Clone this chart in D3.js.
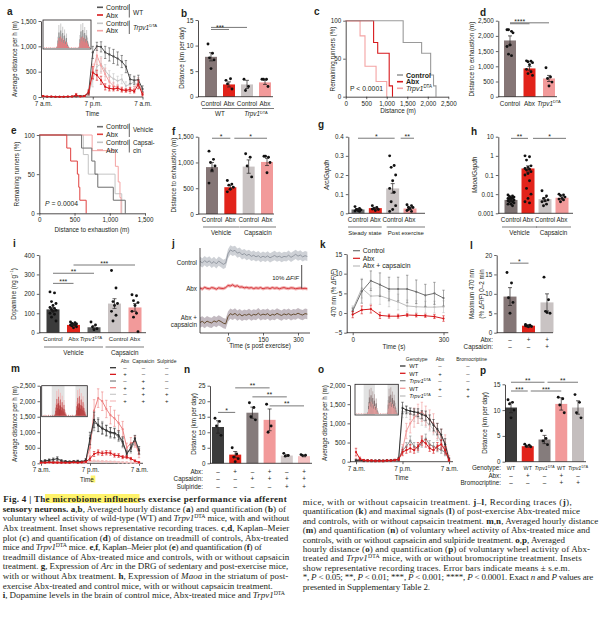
<!DOCTYPE html>
<html><head><meta charset="utf-8">
<script src="https://cdn.jsdelivr.net/npm/d3@7"></script>
<style>body{margin:0;background:#fff}svg{display:block}</style>
</head><body>
<script>
// ================= DATA =================
const hourTicks=[0,12,24];
const hourTickLabels=['7 a.m.','7 p.m.','7 a.m.'];
// panel a (hourly, 7 a.m. .. 7 a.m.)
const aCtrlWT=[10,5,5,5,5,5,5,10,10,20,20,80,880,1000,990,880,840,800,760,700,600,350,330,340,160];
const aCtrlWTerr=[5,5,5,5,5,5,5,5,5,10,10,40,120,80,100,120,130,140,130,120,120,90,80,90,60];
const aAbxWT=[20,10,10,5,5,5,10,10,40,10,20,100,480,430,330,200,170,160,170,140,130,150,110,250,50];
const aAbxWTerr=[10,5,5,5,5,5,5,5,30,5,10,40,120,100,80,60,50,40,40,40,30,40,30,80,30];
const aCtrlTrpv=[5,5,5,5,5,5,5,5,10,10,10,50,350,600,650,520,420,360,320,350,220,250,300,220,100];
const aCtrlTrpvErr=[5,5,5,5,5,5,5,5,5,5,5,30,150,150,150,120,100,100,90,90,80,80,90,70,50];
const aAbxTrpv=[5,5,5,5,5,5,5,5,10,10,10,60,500,820,620,450,300,220,180,150,130,110,160,300,80];
const aAbxTrpvErr=[5,5,5,5,5,5,5,5,5,5,5,30,150,180,150,120,90,70,60,50,40,40,50,80,40];
// inset traces (relative activity)
const insetHi=[0,0,0,0,0,0,0,0,0,0,0,0,0,0.08,0.45,0.92,0.62,0.98,0.55,0.85,0.48,0.74,0.38,0.58,0.22,0.1,0,0,0,0,0,0,0,0,0,0,0.06,0.52,0.95,0.68,1.0,0.58,0.84,0.52,0.72,0.42,0.22,0.06];
const insetMid=[0,0,0,0,0,0,0,0,0,0,0,0,0,0.04,0.3,0.62,0.45,0.7,0.38,0.6,0.32,0.5,0.26,0.4,0.14,0.05,0,0,0,0,0,0,0,0,0,0,0.03,0.35,0.66,0.46,0.72,0.4,0.6,0.36,0.5,0.28,0.14,0.03];
const insetLo=[0.02,0,0.03,0,0.02,0,0.03,0,0.02,0,0.03,0,0.02,0.03,0.18,0.4,0.28,0.46,0.24,0.38,0.2,0.3,0.16,0.24,0.08,0.03,0.02,0,0.03,0,0.02,0,0.03,0,0.02,0,0.02,0.2,0.42,0.3,0.45,0.26,0.38,0.22,0.3,0.18,0.08,0.02];
// panel b
const bLabels=['Control','Abx','Control','Abx'];
const bVals=[7.8,2.4,2.4,2.8];
const bErr=[0.8,0.5,0.8,0.4];
const bDots=[[10.3,8.5,7.6,7.2,5.5],[3.2,3.5,2.5,1.5],[3.4,2.0,1.2],[3.4,3.4,3.4,2.0]];
// panel c (Kaplan–Meier: distance m, % remaining)
const cCtrl=[[0,100],[1400,71.4],[1850,57.1],[2070,28.6],[2140,14.3],[2200,0]];
const cAbx=[[0,100],[680,71.4],[780,57.1],[1060,14.3],[1140,0]];
const cTrpv=[[0,100],[350,80],[470,40],[740,20],[1000,0]];
// panel d
const dLabels=['Control','Abx','[i]Trpv1[/i][s]DTA[/s]'];
const dVals=[1850,930,600];
const dErr=[150,60,100];
const dDots=[[2200,2150,2200,2100,1700,1650,1350,1400],[1180,1170,1150,1120,1050,900,820,760,700],[950,650,600,480,350]];
// panel e
const eCtrlVeh=[[0,100],[600,83.3],[745,66.7],[790,50],[830,33.3],[1050,16.7],[1220,0]];
const eAbxVeh=[[0,100],[390,83.3],[445,66.7],[540,50],[560,33.3],[575,16.7],[665,0]];
const eCtrlCaps=[[0,100],[625,75],[695,50],[1075,25],[1170,0]];
const eAbxCaps=[[0,100],[750,80],[1080,60],[1120,40],[1145,20],[1160,0]];
// panel f
const fLabels=['Control','Abx','Control','Abx'];
const fVals=[910,520,920,1010];
const fErr=[90,40,130,70];
const fDots=[[1220,1060,1000,930,850,600],[650,580,560,520,480,430],[1170,1100,930,720],[1120,1100,1120,1000,800]];
// panel g
const gLabels=['Control','Abx','Control','Abx'];
const gVals=[0.02,0.027,0.13,0.025];
const gErr=[0.004,0.004,0.025,0.005];
const gDots=[[0.035,0.025,0.02,0.018,0.015,0.012,0.01,0.02],[0.04,0.03,0.025,0.02,0.015,0.022],[0.3,0.25,0.24,0.2,0.17,0.13,0.11,0.06,0.04,0.02,0.01],[0.045,0.04,0.032,0.03,0.025,0.015,0.01,0.02]];
// panel h
const hLabels=['Control','Abx','Control','Abx'];
const hVals=[0.005,0.22,0.0055,0.0065];
const hErr=[0.0005,0.08,0.0012,0.0008];
const hDots=[[0.009,0.008,0.0075,0.007,0.0065,0.006,0.006,0.0055,0.005,0.005,0.0045,0.004,0.004,0.0035,0.003,0.003,0.0025],[1.0,0.9,0.6,0.3,0.25,0.22,0.2,0.18,0.15,0.12,0.1,0.05,0.02,0.01,0.006,0.004,0.0035],[0.015,0.008,0.006,0.005,0.0045,0.004,0.003,0.0025],[0.01,0.009,0.0085,0.007,0.006,0.0055,0.005,0.004]];
// panel i
const iLabels=['Control','Abx','[i]Trpv1[/i][s]DTA[/s]','Control','Abx'];
const iVals=[120,40,28,150,130];
const iErr=[10,3,8,25,20];
const iDots=[[210,205,160,150,140,130,125,120,115,110,100,95,80,60],[55,52,48,45,42,40,38,35,30,25],[55,40,30,20,15],[320,230,160,150,140,110,90,60],[195,190,165,155,140,110,100,80,5]];
// panel j (%ΔF/F, every 10 s from −120 s)
const jCtrl=[0.3,-0.4,0.6,-0.2,0.5,-0.6,0.2,-0.8,0.4,-0.3,-1.0,-0.5,3.5,5.2,4.6,5.0,3.8,4.2,3.1,3.6,2.8,3.3,2.4,2.9,2.2,2.7,1.9,2.5,2.0,2.6,1.8,2.3,2.8,2.1,2.5,1.9,2.4,2.2,2.9,2.0,2.6,3.3,2.5,3.0,2.2,2.7,2.4];
const jAbx=[0.1,-0.3,0.4,0.0,-0.2,0.3,0.1,-0.4,0.2,0.0,-0.1,0.3,1.2,1.0,1.5,0.8,1.1,0.5,0.6,0.2,0.4,0.1,0.3,-0.1,0.2,0.0,0.3,-0.2,0.1,0.2,-0.1,0.3,0.0,0.2,-0.2,0.1,0.3,0.0,-0.1,0.2,0.1,-0.2,0.0,0.1,-0.1,0.0,-0.2];
const jCaps=[0.0,0.5,-0.3,0.6,0.1,-0.2,0.7,0.2,0.9,0.4,-0.3,-0.6,2.5,3.8,3.3,3.9,3.0,3.6,2.8,3.4,3.1,3.7,2.9,3.5,3.2,4.0,3.1,3.6,3.3,3.8,2.9,3.5,3.2,3.9,3.4,3.0,3.7,3.3,3.8,3.1,3.6,3.4,4.0,3.5,3.2,3.8,3.6];
const jBand=[2.0,0.7,2.2];
// panel k
const kTime=[0,30,60,90,120,150,180,210,240,270,300];
const kCtrl=[0.5,5.5,8.2,7.2,6.1,6.1,6.1,5.4,4.5,5.0,3.8];
const kCtrlErr=[0.8,3,2.5,3,3,3,3.5,3,2.8,2.8,2];
const kCaps=[1.0,6.3,4.3,4.4,3.6,2.8,1.8,1.6,1.5,1.5,1.6];
const kCapsErr=[0.8,2.5,2,2.2,2,2,1.5,1.5,1.5,1.5,1.5];
const kAbx=[-0.4,0.8,1.0,-0.6,-0.8,-0.8,-0.5,-0.6,-0.7,-0.9,-1.4];
const kAbxErr=[0.8,1,1,0.8,0.5,0.5,0.4,0.4,0.4,0.5,0.7];
// panel l
const lVals=[9.3,1.8,7.8];
const lErr=[2.3,0.3,2.2];
const lDots=[[15.5,12.8,9.0,7.8,5.0],[2.1,1.9,1.7,1.6,1.5,1.8],[14.3,8.5,5.5,5.0,5.2]];
const lAbx=['–','+','+'];
const lCaps=['–','–','+'];
// panel m
const mCtrl=[60,80,100,120,150,80,60,50,60,70,50,100,800,1400,1220,1120,1060,1000,980,900,700,300,500,800,420];
const mCtrlErr=[30,40,40,50,60,40,30,30,30,30,30,50,200,250,200,180,160,150,150,150,150,100,120,100,120];
const mAbx=[20,20,30,20,20,20,20,20,30,20,30,50,150,300,350,320,340,330,260,250,200,200,150,80,30];
const mAbxErr=[10,10,10,10,10,10,10,10,10,10,10,20,60,80,80,70,70,70,60,60,50,50,40,30,20];
const mCaps=[30,40,50,40,40,30,30,30,40,40,40,80,700,1300,1250,1150,1050,980,950,850,650,350,450,700,380];
const mCapsErr=[20,20,20,20,20,20,20,20,20,20,20,40,200,250,220,200,180,170,160,150,150,100,120,120,100];
const mAbxCaps=[30,40,40,40,40,30,30,30,50,40,40,100,500,1700,2100,2000,1750,1550,1450,1300,1100,500,650,700,300];
const mAbxCapsErr=[20,20,20,20,20,20,20,20,20,20,20,50,250,350,300,300,280,280,260,250,250,150,180,180,120];
const mSulp=[10,10,10,10,10,10,10,10,10,10,10,20,40,60,50,60,40,50,40,30,30,20,20,20,10];
const mSulpErr=[5,5,5,5,5,5,5,5,5,5,5,10,20,30,20,30,20,20,20,15,15,10,10,10,5];
const mAbxCapsSulp=[10,10,10,10,10,10,10,10,10,10,10,20,60,80,70,60,60,50,50,40,30,30,20,20,10];
const mAbxCapsSulpErr=[5,5,5,5,5,5,5,5,5,5,5,10,30,30,30,30,25,20,20,20,15,15,10,10,5];
// panel n
const nVals=[11.7,2.8,16.3,14.0,2.5,2.3];
const nErr=[2.0,1.0,1.8,3.5,0.3,0.2];
const nDots=[[14.5,13.5,12,9],[5,3,2,1.5,0.5],[19.5,18,15,14],[19,12,10],[3.2,2.5,2.3],[2.8,2.6,2.5]];
const nAbx=['–','+','–','+','–','+'];
const nCaps=['–','–','+','+','+','+'];
const nSulp=['–','–','–','–','+','+'];
// panel o
const oWT=[30,40,20,30,20,20,30,20,30,30,40,60,1400,1350,1320,1300,1280,1230,1200,1100,950,850,700,450,60];
const oWTerr=[20,20,20,20,20,20,20,20,20,20,20,40,150,100,80,80,100,100,120,120,150,150,150,150,40];
const oAbx=[250,80,40,30,30,20,20,20,30,30,40,60,250,300,350,300,400,550,480,350,300,400,450,300,40];
const oAbxErr=[100,40,20,20,20,20,20,20,20,20,20,30,80,80,100,80,100,120,100,80,80,100,120,100,30];
const oTrpv=[40,40,30,20,20,20,20,20,30,30,40,60,300,400,550,400,350,500,600,450,400,350,300,250,50];
const oTrpvErr=[20,20,20,20,20,20,20,20,20,20,20,30,80,100,120,100,100,120,120,100,100,90,80,80,30];
const oAbxBromo=[60,40,30,20,20,20,20,20,30,30,40,80,300,800,1000,1150,1250,1300,1200,1100,1000,800,650,500,100];
const oAbxBromoErr=[30,20,20,20,20,20,20,20,20,20,20,40,150,200,250,250,250,250,250,250,250,200,200,200,60];
const oTrpvBromo=[40,40,30,20,20,20,20,20,30,30,40,60,1300,1300,1250,1200,1150,1100,1050,950,850,700,500,300,50];
const oTrpvBromoErr=[20,20,20,20,20,20,20,20,20,20,20,30,150,150,150,150,150,150,150,150,150,150,150,150,40];
// panel p
const pGeno=['WT','WT','[i]Trpv1[/i][s]DTA[/s]','WT','[i]Trpv1[/i][s]DTA[/s]'];
const pVals=[10.5,3.0,4.3,11.2,10.5];
const pErr=[1.0,0.2,0.8,1.2,1.3];
const pDots=[[12,11.5,11.2,10,8.5],[3.4,3.2,3.0,2.9],[6,4.5,4,3.3],[12.5,12.2,11,9.5],[13,11.5,9.5,8.5]];
const pAbx=['–','+','–','+','–'];
const pBromo=['–','–','–','+','+'];
// caption
const capLeft=[
'[b]Fig. 4 | The microbiome influences exercise performance via afferent[/b]',
'[b]sensory neurons. a[/b],[b]b[/b], Averaged hourly distance ([b]a[/b]) and quantification ([b]b[/b]) of',
'voluntary wheel activity of wild-type (WT) and [i]Trpv1[/i][s]DTA[/s] mice, with and without',
'Abx treatment. Inset shows representative recording traces. [b]c[/b],[b]d[/b], Kaplan–Meier',
'plot ([b]c[/b]) and quantification ([b]d[/b]) of distance on treadmill of controls, Abx-treated',
'mice and [i]Trpv1[/i][s]DTA[/s] mice. [b]e[/b],[b]f[/b], Kaplan–Meier plot ([b]e[/b]) and quantification ([b]f[/b]) of',
'treadmill distance of Abx-treated mice and controls, with or without capsaicin',
'treatment. [b]g[/b], Expression of [i]Arc[/i] in the DRG of sedentary and post-exercise mice,',
'with or without Abx treatment. [b]h[/b], Expression of [i]Maoa[/i] in the striatum of post-',
'exercise Abx-treated and control mice, with or without capsaicin treatment.',
'[b]i[/b], Dopamine levels in the brain of control mice, Abx-treated mice and [i]Trpv1[/i][s]DTA[/s]'];
const capLeftEnd=[286.7,286,289.3,289.3,288.3,261.7,289.3,288.3,288.3,272.7,285];
const capRight=[
'mice, with or without capsaicin treatment. [b]j[/b]–[b]l[/b], Recording traces ([b]j[/b]),',
'quantification ([b]k[/b]) and maximal signals ([b]l[/b]) of post-exercise Abx-treated mice',
'and controls, with or without capsaicin treatment. [b]m[/b],[b]n[/b], Averaged hourly distance',
'([b]m[/b]) and quantification ([b]n[/b]) of voluntary wheel activity of Abx-treated mice and',
'controls, with or without capsaicin and sulpiride treatment. [b]o[/b],[b]p[/b], Averaged',
'hourly distance ([b]o[/b]) and quantification ([b]p[/b]) of voluntary wheel activity of Abx-',
'treated and [i]Trpv1[/i][s]DTA[/s] mice, with or without bromocriptine treatment. Insets',
'show representative recording traces. Error bars indicate means ± s.e.m.',
'*, [i]P[/i] < 0.05; **, [i]P[/i] < 0.01; ***, [i]P[/i] < 0.001; ****, [i]P[/i] < 0.0001. Exact [i]n[/i] and [i]P[/i] values are',
'presented in Supplementary Table 2.'];
const capRightEnd=[571.7,580,598.3,590,565,590,581.7,570,593.3,430];

// ================= HELPERS =================
const SANS='"Liberation Sans", Arial, Helvetica, sans-serif';
const SERIF='"Liberation Serif", "Times New Roman", serif';
const INK='#231f20';
const COL={dark:'#3b3b3b',taupe:'#857676',red:'#e2231a',lgray:'#c9c3c3',pink:'#f29a9a',gray:'#857b7b',lpink:'#f6c2c2',mgray:'#6a6a6a'};
const svg=d3.select('body').append('svg').attr('width',600).attr('height',631).style('font-family',SANS);

function rich(t,s,fs){
  const parts=s.split(/(\[\/?[bis]\])/);
  let b=0,it=0,sup=0,back=0;
  parts.forEach(p=>{
    if(p==='[b]'){b=1;return;} if(p==='[/b]'){b=0;return;}
    if(p==='[i]'){it=1;return;} if(p==='[/i]'){it=0;return;}
    if(p==='[s]'){sup=1;return;} if(p==='[/s]'){sup=0;back=fs*0.38;return;}
    if(!p) return;
    const ts=t.append('tspan').text(p);
    if(b) ts.attr('font-weight','bold');
    if(it) ts.attr('font-style','italic');
    if(sup){ts.attr('font-size',fs*0.64).attr('dy',-fs*0.38);}
    else if(back){ts.attr('dy',back);back=0;}
  });
}
function T(g,x,y,s,o={}){
  const fs=o.fs||6.3;
  const t=g.append('text').attr('x',x).attr('y',y).attr('font-size',fs).attr('fill',o.c||INK)
    .attr('text-anchor',o.a||'start').attr('font-family',o.ff||SANS);
  if(o.w) t.attr('font-weight',o.w);
  if(o.rot) t.attr('transform',`rotate(-90 ${x} ${y})`);
  rich(t,String(s),fs);
  return t;
}
function sty(sel){
  sel.attr('font-family',SANS);
  sel.select('.domain').attr('stroke',INK).attr('stroke-width',0.8);
  sel.selectAll('.tick line').attr('stroke',INK).attr('stroke-width',0.7);
  sel.selectAll('.tick text').attr('font-size',6.3).attr('fill',INK).attr('font-family',SANS);
}
function yAxis(g,ax,y,ticks,fmt){
  return g.append('g').attr('transform',`translate(${ax},0)`)
   .call(d3.axisLeft(y).tickValues(ticks).tickFormat(fmt||d3.format(',')).tickSize(2.5).tickPadding(2).tickSizeOuter(0)).call(sty);
}
function xAxis(g,ay,x,ticks,fmt,x0,x1){
  const a=g.append('g').attr('transform',`translate(0,${ay})`)
   .call(d3.axisBottom(x).tickValues(ticks).tickFormat(fmt||d3.format(',')).tickSize(2.5).tickPadding(2).tickSizeOuter(0)).call(sty);
  if(x0!==undefined){a.select('.domain').remove();g.append('line').attr('x1',x0).attr('x2',x1).attr('y1',ay).attr('y2',ay).attr('stroke',INK).attr('stroke-width',0.8);}
  return a;
}
function hline(g,x1,x2,y,c,w){g.append('line').attr('x1',x1).attr('x2',x2).attr('y1',y).attr('y2',y).attr('stroke',c||INK).attr('stroke-width',w||0.8);}
function vline(g,x,y1,y2,c,w){g.append('line').attr('x1',x).attr('x2',x).attr('y1',y1).attr('y2',y2).attr('stroke',c||INK).attr('stroke-width',w||0.8);}
const jit=j=>(((j*3)%5)-2)*1.5;

function barPanel(o){
  const g=svg.append('g');
  const n=o.vals.length;
  const x=d3.scalePoint().domain(d3.range(n)).range(o.xr);
  const y=(o.log?d3.scaleLog():d3.scaleLinear()).domain(o.dom).range(o.yr);
  const base=o.dom[0];
  g.selectAll('rect.bar').data(o.vals).join('rect').attr('class','bar')
    .attr('x',(d,i)=>x(i)-o.bw/2).attr('width',o.bw).attr('y',d=>y(d)).attr('height',d=>y(base)-y(d))
    .attr('fill',(d,i)=>o.colors[i]);
  o.dots.forEach((arr,i)=>arr.forEach((d,j)=>g.append('circle').attr('cx',x(i)+jit(j)).attr('cy',y(d)).attr('r',1.45).attr('fill','#111')));
  o.vals.forEach((v,i)=>{const e=o.errs[i];const lo=Math.max(v-e,o.log?base:0);
    vline(g,x(i),y(lo),y(v+e),INK,0.7);hline(g,x(i)-2,x(i)+2,y(v+e),INK,0.7);hline(g,x(i)-2,x(i)+2,y(lo),INK,0.7);});
  yAxis(g,o.ax,y,o.ticks,o.fmt);
  hline(g,o.ax,o.xend,y(base));
  (o.sig||[]).forEach(s=>{const yy=y(s.v);const x1=x(s.a)+(s.d1||0),x2=x(s.b)-(s.d2||0);
    hline(g,x1,x2,yy,'#555',0.8); if(s.t) T(g,(x1+x2)/2,yy+0.6,s.t,{a:'middle',fs:7});});
  if(o.labels) o.labels.forEach((l,i)=>T(g,x(i)+((o.labelDx||[])[i]||0),o.labelY,l,{a:'middle',fs:o.labelFs||6.3}));
  (o.groups||[]).forEach(gr=>{const x1=x(gr.a)-(gr.l||9),x2=x(gr.b)+(gr.r||9);hline(g,x1,x2,o.gy,'#444',0.7);T(g,(x1+x2)/2,o.gy+7.5,gr.t,{a:'middle',fs:o.groupFs||6.3});});
  (o.rows||[]).forEach(r=>{T(g,o.rowX,r.y,r.label,{a:'end',fs:r.lfs||6.3});r.vals.forEach((v,i)=>T(g,x(i),r.y,v,{a:'middle',fs:r.fs||6.3}));});
  if(o.ylab) T(g,o.ylx,o.yly,o.ylab,{a:'middle',rot:1,fs:6.3});
  return {g,x,y};
}
function series(g,x,y,vals,errs,color,o={}){
  const lo=o.lo===undefined?0:o.lo;
  vals.forEach((v,i)=>{const e=errs[i];const xi=x(o.t?o.t[i]:i);
    const a=Math.max(lo,v-e),b=v+e;
    vline(g,xi,y(a),y(b),color,0.6);hline(g,xi-1.2,xi+1.2,y(b),color,0.6);hline(g,xi-1.2,xi+1.2,y(a),color,0.6);});
  g.append('path').attr('d',d3.line().x((d,i)=>x(o.t?o.t[i]:i)).y(d=>y(d))(vals)).attr('fill','none').attr('stroke',color).attr('stroke-width',o.w||1);
  vals.forEach((v,i)=>g.append('circle').attr('cx',x(o.t?o.t[i]:i)).attr('cy',y(v)).attr('r',1.1).attr('fill',color));
}
function km(g,x,y,pts,color,w){
  g.append('path').attr('d',d3.line().x(d=>x(d[0])).y(d=>y(d[1])).curve(d3.curveStepAfter)(pts))
   .attr('fill','none').attr('stroke',color).attr('stroke-width',w||1);
}
function inset(x0,y0,w,h,cols,bands){
  const g=svg.append('g');
  g.append('rect').attr('x',x0).attr('y',y0).attr('width',w).attr('height',h).attr('fill','#fff');
  (bands||[]).forEach(b=>g.append('rect').attr('x',x0+b[0]*w).attr('y',y0).attr('width',(b[1]-b[0])*w).attr('height',h).attr('fill','#e2e2e2'));
  [insetHi,insetMid,insetLo].forEach((arr,k)=>{
    const xs=d3.scaleLinear().domain([0,arr.length-1]).range([x0+1.5,x0+w-1.5]);
    const ys=d3.scaleLinear().domain([0,1]).range([y0+h-1,y0+3]);
    arr.forEach((v,i)=>{ if(v>0) vline(g,xs(i),ys(0),ys(v),cols[k],0.9); });
  });
  g.append('rect').attr('x',x0).attr('y',y0).attr('width',w).attr('height',h).attr('fill','none').attr('stroke',INK).attr('stroke-width',0.8);
}
function legLine(g,x1,x2,y,c,w){hline(g,x1,x2,y,c,w||1.6);}

// ================= PANEL LETTERS =================
[['a',7,15],['b',181,16.5],['c',314,15],['d',480,16],['e',11,134],['f',172,135],['g',318,128],['h',471,135],
 ['i',13,247],['j',172,247],['k',320,248],['l',470,249],['m',11,372],['n',184,373],['o',318,373],['p',480,374]]
 .forEach(d=>T(svg,d[1],d[2],d[0],{fs:10,w:'bold'}));

// ================= PANEL a =================
(function(){
  const g=svg.append('g');
  const x=d3.scaleLinear().domain([0,24]).range([43,142.5]);
  const y=d3.scaleLinear().domain([0,1500]).range([97,21]);
  yAxis(g,41,y,[0,500,1000,1500]);
  xAxis(g,97,x,hourTicks,(d,i)=>hourTickLabels[i],41,143);
  series(g,x,y,aCtrlTrpv,aCtrlTrpvErr,'#c6c6c6');
  series(g,x,y,aAbxTrpv,aAbxTrpvErr,'#f4a3a3');
  series(g,x,y,aCtrlWT,aCtrlWTerr,'#4d4d4d');
  series(g,x,y,aAbxWT,aAbxWTerr,'#d7191c');
  inset(43,20,48,29,['#c4c4c4','#858585','#ee7b7e']);
  T(g,92.5,115.5,'Time',{a:'middle'});
  T(g,17,59,'Average distance per h (m)',{a:'middle',rot:1});
  const cols=['#555','#d7191c','#c6c6c6','#f4a3a3'],labs=['Control','Abx','Control','Abx'],ys=[7.3,15,23.3,30.7];
  ys.forEach((yy,k)=>{legLine(g,97,103,yy,cols[k]);T(g,106,yy+2.5,labs[k],{fs:7});});
  vline(g,129.3,4,17.5,INK,0.7);vline(g,129.3,20.5,34,INK,0.7);
  T(g,133,14.5,'WT',{fs:6.5});T(g,133,29.5,'[i]Trpv1[/i][s]DTA[/s]',{fs:6.5});
})();

// ================= PANEL b =================
barPanel({ax:198,xend:273,xr:[211,265],yr:[96.7,20],dom:[0,15],ticks:[0,5,10,15],bw:12,
  vals:bVals,errs:bErr,dots:bDots,colors:[COL.taupe,COL.red,COL.lgray,COL.pink],
  labels:bLabels,labelY:105.5,groups:[{a:0,b:1,t:'WT'},{a:2,b:3,t:'[i]Trpv1[/i][s]DTA[/s]'}],gy:108.5,
  sig:[{a:0,b:2,v:13.55,t:''},{a:0,b:1,v:13.15,t:'***'}],
  ylab:'Distance (km per day)',ylx:184,yly:58});

// ================= PANEL c =================
(function(){
  const g=svg.append('g');
  const x=d3.scaleLinear().domain([0,2500]).range([345.7,448.3]);
  const y=d3.scaleLinear().domain([0,100]).range([96.7,20.7]);
  km(g,x,y,cTrpv,'#f4a3a3',1.1);
  km(g,x,y,cAbx,'#d7191c',1.1);
  km(g,x,y,cCtrl,'#9a9a9a',1.1);
  yAxis(g,345.7,y,[0,50,100]);
  xAxis(g,96.7,x,[0,500,1000,1500,2000,2500]);
  T(g,398,112.5,'Distance (m)',{a:'middle'});
  T(g,335,59,'Remaining runners (%)',{a:'middle',rot:1});
  T(g,350,90.5,'P < 0.0001',{fs:6.8});
  legLine(g,397,403,75,'#9a9a9a');T(g,406,77.5,'Control',{fs:7,w:'bold'});
  legLine(g,397,403,81.7,'#d7191c');T(g,406,84.2,'Abx',{fs:7,w:'bold'});
  legLine(g,397,403,88.3,'#f4a3a3');T(g,406,90.8,'[i]Trpv1[/i][s]DTA[/s]',{fs:7});
})();

// ================= PANEL d =================
barPanel({ax:498.3,xend:557,xr:[510,549],yr:[96.7,20.7],dom:[0,2500],ticks:[0,500,1000,1500,2000,2500],bw:12,
  vals:dVals,errs:dErr,dots:dDots,colors:[COL.taupe,COL.red,COL.pink],labels:dLabels,labelY:105.5,
  sig:[{a:0,b:2,v:2430,t:''},{a:0,b:1,v:2400,t:'****'}],
  ylab:'Distance to exhaustion (m)',ylx:474,yly:59});

// ================= PANEL e =================
(function(){
  const g=svg.append('g');
  const x=d3.scaleLinear().domain([0,1500]).range([39.3,145]);
  const y=d3.scaleLinear().domain([0,100]).range([213.3,135]);
  km(g,x,y,eCtrlCaps,'#c4c4c4',1);
  km(g,x,y,eAbxCaps,'#f4a3a3',1);
  km(g,x,y,eCtrlVeh,'#6e6e6e',1);
  km(g,x,y,eAbxVeh,'#e0403f',1);
  yAxis(g,39.3,y,[0,50,100]);
  xAxis(g,213.3,x,[0,500,1000,1500]);
  T(g,92,231.5,'Distance to exhaustion (m)',{a:'middle'});
  T(g,19,174,'Remaining runners (%)',{a:'middle',rot:1});
  T(g,45,205.5,'[i]P[/i] = 0.0004',{fs:6.8});
  const cols=['#6e6e6e','#e0403f','#c4c4c4','#f4a3a3'],labs=['Control','Abx','Control','Abx'],ys=[126.7,134.3,142.3,150];
  ys.forEach((yy,k)=>{legLine(g,97,103,yy,cols[k]);T(g,106,yy+2.5,labs[k],{fs:7});});
  vline(g,129.3,123.5,137,INK,0.7);vline(g,129.3,139.5,152.5,INK,0.7);
  T(g,133,132.3,'Vehicle',{fs:6.3});T(g,133,145,'Capsai-',{fs:6.3});T(g,133,152.5,'cin',{fs:6.3});
})();

// ================= PANEL f =================
barPanel({ax:198.3,xend:274,xr:[212,267],yr:[214,136.7],dom:[0,1500],ticks:[0,500,1000,1500],bw:12,
  vals:fVals,errs:fErr,dots:fDots,colors:[COL.taupe,COL.red,COL.lgray,COL.pink],labels:fLabels,labelY:221.5,
  groups:[{a:0,b:1,t:'Vehicle'},{a:2,b:3,t:'Capsaicin'}],gy:227,
  sig:[{a:0,b:1,v:1470,t:'*'},{a:1,b:3,v:1470,t:'*',d1:4}],
  ylab:'Distance to exhaustion (m)',ylx:175.5,yly:175});

// ================= PANEL g =================
barPanel({ax:348.3,xend:425,xr:[358,410],yr:[213.3,136.7],dom:[0,0.4],ticks:[0,0.1,0.2,0.3,0.4],
  fmt:d=>d===0?'0':d3.format('.1f')(d),bw:13,
  vals:gVals,errs:gErr,dots:gDots,colors:[COL.mgray,COL.red,COL.lgray,COL.pink],labels:gLabels,labelY:221.5,
  groups:[{a:0,b:1,t:'Steady state',l:10,r:6.4},{a:2,b:3,t:'Post exercise',l:6,r:15}],gy:227,groupFs:6,
  sig:[{a:0,b:2,v:0.392,t:'*',d2:-2},{a:2,b:3,v:0.392,t:'**',d1:8,d2:-4}],
  ylab:'[i]Arc[/i]/[i]Gapdh[/i]',ylx:329,yly:175});

// ================= PANEL h =================
barPanel({ax:498.3,xend:573,xr:[511,562],yr:[213.3,136.7],dom:[0.001,10],log:true,ticks:[0.001,0.01,0.1,1,10],
  fmt:d=>String(d),bw:13,
  vals:hVals,errs:hErr,dots:hDots,colors:['#7d7272',COL.red,COL.lgray,COL.pink],labels:hLabels,labelY:221.5,
  groups:[{a:0,b:1,t:'Vehicle'},{a:2,b:3,t:'Capsaicin'}],gy:227,
  sig:[{a:0,b:1,v:8.2,t:'**'},{a:1,b:3,v:8.2,t:'*',d1:5,d2:-4}],
  ylab:'[i]Maoa[/i]/[i]Gapdh[/i]',ylx:477,yly:175});

// ================= PANEL i =================
barPanel({ax:39.3,xend:146,xr:[53,135],yr:[332.7,255],dom:[0,400],ticks:[0,100,200,300,400],bw:13,
  vals:iVals,errs:iErr,dots:iDots,colors:[COL.dark,COL.red,'#5e5e5e',COL.lgray,COL.pink],labels:iLabels,labelY:341,
  labelDx:[0,0,-3,4,0],labelFs:6,
  groups:[{a:0,b:2,t:'Vehicle'},{a:3,b:4,t:'Capsaicin'}],gy:347,
  sig:[{a:0,b:1,v:254,t:'***'},{a:0,b:2,v:306,t:'**'},{a:1,b:4,v:348.5,t:'***'}],
  ylab:'Dopamine (ng g[s]−1[/s])',ylx:15.5,yly:294});

// ================= PANEL j =================
(function(){
  const g=svg.append('g');
  const x=d3.scaleLinear().domain([0,300]).range([228,298]);
  const tOf=i=>-120+i*10;
  const traces=[[jCtrl,262,'#8d939c','#c9ccd2',jBand[0]],[jAbx,288.3,'#d42a2f','#f1a7a9',jBand[1]],[jCaps,322.5,'#5b4120','#bdb2ba',jBand[2]]];
  traces.forEach(tr=>{
    const y=d3.scaleLinear().domain([0,10]).range([tr[1],tr[1]-23.3]);
    g.append('path').attr('d',d3.area().x((d,i)=>x(tOf(i))).y0(d=>y(d-tr[4])).y1(d=>y(d+tr[4]))(tr[0])).attr('fill',tr[3]).attr('opacity',0.9);
    g.append('path').attr('d',d3.line().x((d,i)=>x(tOf(i))).y(d=>y(d))(tr[0])).attr('fill','none').attr('stroke',tr[2]).attr('stroke-width',0.9);
  });
  vline(g,200,248,333);
  xAxis(g,333,x,[0,150,300],null,200,310);
  const ys=d3.scaleLinear().domain([0,10]).range([288.3,265]);
  vline(g,301.7,ys(0),ys(10),INK,0.8);
  T(g,299,280,'10% [i]ΔF[/i]/[i]F[/i]',{a:'end',fs:6});
  T(g,197,264.5,'Control',{a:'end'});
  T(g,197,290.5,'Abx',{a:'end'});
  T(g,197,320,'Abx +',{a:'end'});
  T(g,197,327,'capsaicin',{a:'end'});
  T(g,260,348,'Time (s post exercise)',{a:'middle'});
})();

// ================= PANEL k =================
(function(){
  const g=svg.append('g');
  const x=d3.scaleLinear().domain([0,300]).range([352.7,443.5]);
  const y=d3.scaleLinear().domain([-5,15]).range([332.7,254]);
  series(g,x,y,kCaps,kCapsErr,'#bdbdbd',{t:kTime,lo:-99});
  series(g,x,y,kCtrl,kCtrlErr,'#707070',{t:kTime,lo:-99});
  series(g,x,y,kAbx,kAbxErr,'#d7191c',{t:kTime,lo:-99});
  yAxis(g,346.7,y,[-5,0,5,10,15],d=>d<0?'−'+(-d):String(d));
  xAxis(g,332.7,x,[0,300],null,346.7,448.3);
  T(g,394,349,'Time (s)',{a:'middle'});
  T(g,335.5,293,'470 nm (% [i]ΔF[/i]/[i]F[/i])',{a:'middle',rot:1});
  const cols=['#707070','#d7191c','#bdbdbd'],labs=['Control','Abx','Abx + capsaicin'],ys=[250.7,258.3,266];
  ys.forEach((yy,k)=>{legLine(g,353,360,yy,cols[k],1.2);T(g,362.7,yy+2.4,labs[k],{fs:6.8});});
})();

// ================= PANEL l =================
barPanel({ax:496.7,xend:553,xr:[510,547],yr:[332.7,255],dom:[0,20],ticks:[0,5,10,15,20],bw:13,
  vals:lVals,errs:lErr,dots:lDots,colors:[COL.taupe,COL.red,COL.lgray],
  sig:[{a:0,b:1,v:17.9,t:'*'}],rowX:493,
  rows:[{label:'Abx:',vals:lAbx,y:341.5},{label:'Capsaicin:',vals:lCaps,y:349.2}],
  ylab:'Maximum 470 nm',ylx:474,yly:294});
T(svg,484,294,'(% [i]ΔF[/i]/[i]F[/i]) 0–2 min',{a:'middle',rot:1});

// ================= PANEL m =================
(function(){
  const g=svg.append('g');
  const x=d3.scaleLinear().domain([0,24]).range([41,139]);
  const y=d3.scaleLinear().domain([0,2500]).range([463.3,385.7]);
  yAxis(g,40,y,[0,500,1000,1500,2000,2500]);
  xAxis(g,463.3,x,hourTicks,(d,i)=>hourTickLabels[i],40,143);
  series(g,x,y,mSulp,mSulpErr,'#cfcfcf');
  series(g,x,y,mAbxCapsSulp,mAbxCapsSulpErr,'#f6c2c2');
  series(g,x,y,mCaps,mCapsErr,'#8a8a8a');
  series(g,x,y,mAbxCaps,mAbxCapsErr,'#ee8383');
  series(g,x,y,mCtrl,mCtrlErr,'#333');
  series(g,x,y,mAbx,mAbxErr,'#d7191c');
  inset(41.7,385.7,45.6,31,['#f2b8b8','#c86060','#b23a3a'],[[0.22,0.5],[0.74,1]]);
  g.append('rect').attr('x',90.7).attr('y',475.5).attr('width',4.6).attr('height',7).attr('fill','#fff36b');
  T(g,87,481.5,'Time',{a:'middle'});
  T(g,17,424,'Average distance per h (m)',{a:'middle',rot:1});
  T(g,125,363,'Abx',{a:'middle',fs:5});T(g,143.3,363,'Capsaicin',{a:'middle',fs:5});T(g,166.7,363,'Sulpiride',{a:'middle',fs:5});
  const cols=['#333','#d7191c','#8a8a8a','#ee8383','#cfcfcf','#f6c2c2'];
  cols.forEach((c,k)=>{const yy=367.7+k*6.66;legLine(g,110,116,yy,c,1.3);
    T(g,125,yy+2,nAbx[k],{a:'middle',fs:6});T(g,143.3,yy+2,nCaps[k],{a:'middle',fs:6});T(g,166.7,yy+2,nSulp[k],{a:'middle',fs:6});});
})();

// ================= PANEL n =================
barPanel({ax:210,xend:312,xr:[218,304],yr:[463.3,385.7],dom:[0,25],ticks:[0,5,10,15,20,25],bw:12,
  vals:nVals,errs:nErr,dots:nDots,colors:[COL.dark,COL.red,COL.gray,COL.pink,'#d3caca',COL.lpink],
  sig:[{a:0,b:1,v:16.4,t:'*'},{a:1,b:3,v:24.3,t:'**'},{a:2,b:4,v:21.4,t:'**'},{a:3,b:5,v:18.5,t:'**'}],rowX:203,
  rows:[{label:'Abx:',vals:nAbx,y:473.5},{label:'Capsaicin:',vals:nCaps,y:481},{label:'Sulpiride:',vals:nSulp,y:488.5}],
  ylab:'Distance (km per day)',ylx:195.5,yly:424});

// ================= PANEL o =================
(function(){
  const g=svg.append('g');
  const x=d3.scaleLinear().domain([0,24]).range([356,449]);
  const y=d3.scaleLinear().domain([0,2000]).range([461.7,385]);
  yAxis(g,350,y,[0,500,1000,1500,2000]);
  xAxis(g,461.7,x,hourTicks,(d,i)=>hourTickLabels[i],350,453);
  series(g,x,y,oTrpvBromo,oTrpvBromoErr,'#c0c0c0');
  series(g,x,y,oAbxBromo,oAbxBromoErr,'#f29a9a');
  series(g,x,y,oTrpv,oTrpvErr,'#8a8a8a');
  series(g,x,y,oWT,oWTerr,'#333');
  series(g,x,y,oAbx,oAbxErr,'#d7191c');
  inset(355,384.3,43.3,30.7,['#b8a8a8','#7e6a6a','#eaa0a0'],[[0.2,0.46],[0.75,1]]);
  T(g,401.7,479.5,'Time',{a:'middle'});
  T(g,327,423,'Average distance per h (m)',{a:'middle',rot:1});
  T(g,416.7,361,'Genotype',{a:'middle',fs:5});T(g,440,361,'Abx',{a:'middle',fs:5});T(g,471.7,361,'Bromocriptine',{a:'middle',fs:5});
  const cols=['#333','#d7191c','#8a8a8a','#f29a9a','#c0c0c0'],ys=[366,373.3,380.7,388.3,396];
  ys.forEach((yy,k)=>{legLine(g,400,405.5,yy,cols[k],1.3);T(g,409.3,yy+2.2,pGeno[k],{fs:5.8});
    T(g,440,yy+2.2,pAbx[k],{a:'middle',fs:6});T(g,468,yy+2.2,pBromo[k],{a:'middle',fs:6});});
})();

// ================= PANEL p =================
barPanel({ax:505,xend:586,xr:[511,578],yr:[461.7,384.3],dom:[0,15],ticks:[0,5,10,15],bw:12,
  vals:pVals,errs:pErr,dots:pDots,colors:[COL.dark,COL.red,'#857c7c',COL.pink,'#c4bebe'],
  sig:[{a:0,b:2,v:15.4,t:'**'},{a:2,b:4,v:15.4,t:'**',d1:3},{a:0,b:1,v:13.7,t:'***'},{a:1,b:3,v:13.7,t:'***',d1:3}],rowX:501,
  rows:[{label:'Genotype:',vals:pGeno,y:470,fs:5.4},{label:'Abx:',vals:pAbx,y:477.5},{label:'Bromocriptine:',vals:pBromo,y:485}],
  ylab:'Distance (km per day)',ylx:487,yly:423});

// ================= CAPTION =================
svg.append('rect').attr('x',45).attr('y',494).attr('width',94.5).attr('height',9).attr('fill','#fff36b');
(function(){
  const g=svg.append('g');
  const lines=[];
  capLeft.forEach((s,k)=>lines.push({s,x0:k===0?3.3:2.7,y:k===0?501.5:511.7+(k-1)*9.6,end:capLeftEnd[k],full:capLeftEnd[k]>280}));
  capRight.forEach((s,k)=>lines.push({s,x0:302.7,y:505+k*9.4,end:capRightEnd[k],full:capRightEnd[k]>575}));
  // measure at base size, pick common font size so justified lines fit naturally
  const base=8.7; const ratios=[];
  lines.forEach(l=>{const t=T(g,l.x0,l.y,l.s,{ff:SERIF,fs:base});const w=t.node().getComputedTextLength();t.remove();l.nat=w;
    if(l.full) ratios.push((l.end-l.x0)/w);});
  const fs=Math.min(9,base*d3.median(ratios));
  lines.forEach(l=>{const t=T(g,l.x0,l.y,l.s,{ff:SERIF,fs:fs});
    const w=t.node().getComputedTextLength(); const target=l.end-l.x0;
    if(Math.abs(w-target)>0.5) t.attr('textLength',target).attr('lengthAdjust','spacing');});
})();
</script>
</body></html>
